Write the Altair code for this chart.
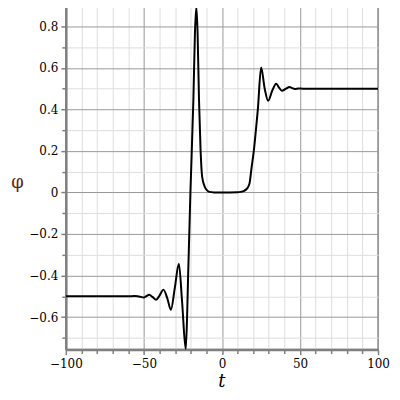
import altair as alt
import pandas as pd

# curve
T = [-100, -60, -56, -54, -52, -50.2, -48.5, -46.6, -44.5, -42.2, -40, -37.5, -35,
     -32.7, -30.2, -27.6, -25.5, -23.2, -22.3, -21.7, -20.2, -18.3, -17.3, -16.4,
     -15.6, -14.7, -13.7, -12.7, -11.1, -9.5, -8, -5, 0, 10, 12, 14.2, 16.3, 17.7,
     18.8, 20.5, 22, 23, 25.1, 27.4, 29.6, 32.2, 34.8, 36.6, 38.4, 41, 43.3, 45,
     46.8, 49, 52, 100]
PHI = [-0.5, -0.5, -0.499, -0.5, -0.503, -0.506, -0.5, -0.493, -0.503, -0.517,
       -0.497, -0.468, -0.51, -0.565, -0.46, -0.343, -0.53, -0.755, -0.59, -0.41,
       0.0, 0.447, 0.768, 0.895, 0.768, 0.447, 0.206, 0.077, 0.029, 0.01, 0.003,
       0.0005, 0.0, 0.001, 0.003, 0.008, 0.021, 0.045, 0.109, 0.206, 0.32, 0.4,
       0.602, 0.5, 0.442, 0.49, 0.524, 0.505, 0.49, 0.5, 0.508, 0.503, 0.499, 0.501,
       0.5, 0.5]

X_TICKS = [-100, -90, -80, -70, -60, -50, -40, -30, -20, -10, 0, 10, 20, 30, 40,
           50, 60, 70, 80, 90, 100]
Y_TICKS = [-0.7, -0.6, -0.5, -0.4, -0.3, -0.2, -0.1, 0, 0.1, 0.2, 0.3, 0.4, 0.5,
           0.6, 0.7, 0.8]
X_DOMAIN = [-100, 100]
Y_DOMAIN = [-0.757, 0.896]

df = pd.DataFrame({"t": T, "phi": PHI})

SERIF = "DejaVu Serif"
xmajor = "datum.value % 50 === 0"
ymajor = "abs(round(datum.value * 10)) % 2 === 0"

x_axis = alt.Axis(
    values=X_TICKS,
    title="t",
    titleFontStyle="italic", titleFontWeight="normal",
    titleFontSize=18, titleColor="#000000",
    titleX=156, titleY=32, titleAlign="center", titleBaseline="middle",
    labelExpr="datum.value % 50 === 0 ? datum.label : ''",
    labelFontSize=12, labelColor="#000000",
    labelPadding=4, labelFlush=False, labelOverlap=False,
    domainColor="#808080", domainWidth=2.5,
    tickColor="#808080", tickWidth=1.5,
    tickSize={"condition": {"test": xmajor, "value": 5}, "value": 4},
    grid=True,
    gridColor={"condition": {"test": xmajor, "value": "#999999"}, "value": "#dedede"},
    gridWidth=1,
)
y_axis = alt.Axis(
    values=Y_TICKS,
    title="φ",
    titleFontWeight="normal", titleFontSize=18,
    titleColor="#5a2a10", titleAngle=0,
    titleX=-49, titleY=176, titleAlign="center", titleBaseline="middle",
    labelExpr=ymajor + " ? format(datum.value, '~g') : ''",
    labelFontSize=12, labelColor="#000000",
    labelPadding=3, labelOverlap=False, labelFlush=False,
    domainColor="#808080", domainWidth=2.5,
    tickColor="#808080", tickWidth=1.5,
    tickSize={"condition": {"test": ymajor, "value": 5}, "value": 4},
    grid=True,
    gridColor={"condition": {"test": ymajor, "value": "#999999"}, "value": "#dedede"},
    gridWidth=1,
)

chart = (
    alt.Chart(df)
    .mark_line(color="black", strokeWidth=2, interpolate="monotone", clip=True)
    .encode(
        x=alt.X("t:Q", scale=alt.Scale(domain=X_DOMAIN, nice=False, zero=False), axis=x_axis),
        y=alt.Y("phi:Q", scale=alt.Scale(domain=Y_DOMAIN, nice=False, zero=False), axis=y_axis),
        order="t:Q",
    )
    .properties(
        width=313, height=344,
        autosize=alt.AutoSizeParams(type="none"),
        padding={"left": 58, "top": -2, "right": 14, "bottom": 42},
        background="white",
    )
    .configure(font=SERIF)
    .configure_axis(labelFont=SERIF, titleFont=SERIF)
    .configure_view(stroke="#8a8a8a", strokeWidth=1.5)
)

chart.save("out.html", embed_options={"renderer": "svg", "actions": False})
